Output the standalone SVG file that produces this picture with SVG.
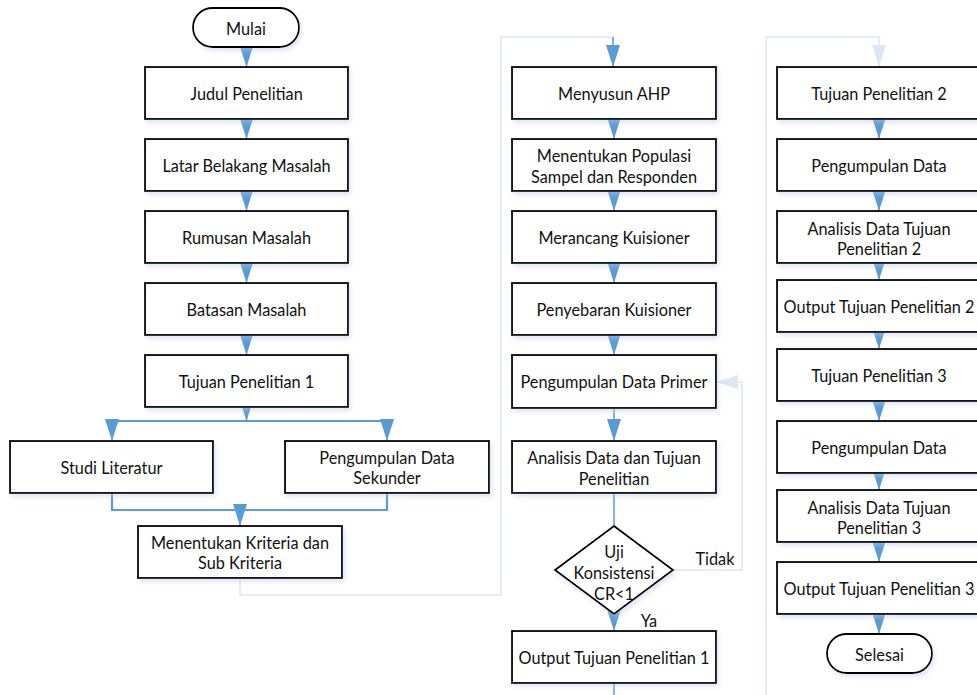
<svg xmlns="http://www.w3.org/2000/svg" width="977" height="695" viewBox="0 0 977 695">
<style>
.b{fill:#fff;stroke:#000;stroke-width:1.8;filter:url(#sh)}
.t{font-family:Lato,"Liberation Sans",sans-serif;font-size:16.3px;fill:#111;text-anchor:middle;dominant-baseline:central}
.c{fill:none;stroke:#5b9bd5;stroke-width:1.5}
.cb{fill:none;stroke:#5b9bd5;stroke-width:2.2}
.p{fill:none;stroke:#dce6f4;stroke-width:1.5}
</style>
<defs>
<filter id="sh" x="-10%" y="-10%" width="130%" height="140%"><feDropShadow dx="2" dy="3" stdDeviation="2" flood-color="#b8c8e0" flood-opacity="0.45"/></filter>
<marker id="a" viewBox="0 0 22 14" refX="22" refY="7" markerWidth="22" markerHeight="14" markerUnits="userSpaceOnUse" orient="auto"><path d="M0,0L22,7L0,14z" fill="#5b9bd5"/></marker>
<marker id="ap" viewBox="0 0 22 14" refX="22" refY="7" markerWidth="22" markerHeight="14" markerUnits="userSpaceOnUse" orient="auto"><path d="M0,0L22,7L0,14z" fill="#dce6f4"/></marker>
</defs>
<g id="connectors">
<path class="c" d="M246.5,47V67" marker-end="url(#a)"/>
<path class="c" d="M246.5,119V139" marker-end="url(#a)"/>
<path class="c" d="M246.5,191V211" marker-end="url(#a)"/>
<path class="c" d="M246.5,263V283" marker-end="url(#a)"/>
<path class="c" d="M246.5,335V355" marker-end="url(#a)"/>
<path class="c" d="M246.5,407V421" marker-end="url(#a)"/>
<path class="cb" d="M112,421H387"/>
<path class="c" d="M112,421V441" marker-end="url(#a)"/>
<path class="c" d="M387,421V441" marker-end="url(#a)"/>
<path class="cb" d="M112,493V510H387V493"/>
<path class="c" d="M240,510V526" marker-end="url(#a)"/>
<path class="p" d="M240,578V595H501V37H613V44"/>
<path class="c" d="M613,37V67" marker-end="url(#a)"/>
<path class="c" d="M614,119V139" marker-end="url(#a)"/>
<path class="c" d="M614,191V211" marker-end="url(#a)"/>
<path class="c" d="M614,263V283" marker-end="url(#a)"/>
<path class="c" d="M614,335V355" marker-end="url(#a)"/>
<path class="c" d="M614,408V441" marker-end="url(#a)"/>
<path class="c" d="M614,493V526"/>
<path class="c" d="M614,608V631" marker-end="url(#a)"/>
<path class="p" d="M673,570H742V382H716" marker-end="url(#ap)"/>
<path class="c" d="M614,683V695"/>
<path class="p" d="M766,695V37H879V67" marker-end="url(#ap)"/>
<path class="c" d="M879,119V139" marker-end="url(#a)"/>
<path class="c" d="M879,191V211" marker-end="url(#a)"/>
<path class="c" d="M879,263V280" marker-end="url(#a)"/>
<path class="c" d="M879,332V349" marker-end="url(#a)"/>
<path class="c" d="M879,401V421" marker-end="url(#a)"/>
<path class="c" d="M879,473V490" marker-end="url(#a)"/>
<path class="c" d="M879,542V562" marker-end="url(#a)"/>
<path class="c" d="M879,614V634" marker-end="url(#a)"/>
<text class="t" x="715" y="558">Tidak</text>
<text class="t" x="649" y="620">Ya</text>
</g>
<g id="mulai"><rect class="b" x="193" y="8" width="106" height="39" rx="19.5"/><text class="t" x="246" y="28">Mulai</text></g>
<g id="judul"><rect class="b" x="145" y="67" width="203" height="52"/><text class="t" x="246.5" y="93">Judul Penelitian</text></g>
<g id="latar"><rect class="b" x="145" y="139" width="203" height="52"/><text class="t" x="246.5" y="165">Latar Belakang Masalah</text></g>
<g id="rumusan"><rect class="b" x="145" y="211" width="203" height="52"/><text class="t" x="246.5" y="237">Rumusan Masalah</text></g>
<g id="batasan"><rect class="b" x="145" y="283" width="203" height="52"/><text class="t" x="246.5" y="309">Batasan Masalah</text></g>
<g id="tujuan1"><rect class="b" x="145" y="355" width="203" height="52"/><text class="t" x="246.5" y="381">Tujuan Penelitian 1</text></g>
<g id="studi"><rect class="b" x="10" y="441" width="203" height="52"/><text class="t" x="111.5" y="467">Studi Literatur</text></g>
<g id="sekunder"><rect class="b" x="285" y="441" width="204" height="52"/><text class="t" x="387" y="457">Pengumpulan Data</text><text class="t" x="387" y="477">Sekunder</text></g>
<g id="kriteria"><rect class="b" x="138" y="526" width="204" height="52"/><text class="t" x="240" y="542">Menentukan Kriteria dan</text><text class="t" x="240" y="562">Sub Kriteria</text></g>
<g id="ahp"><rect class="b" x="512" y="67" width="204" height="52"/><text class="t" x="614" y="93">Menyusun AHP</text></g>
<g id="populasi"><rect class="b" x="512" y="139" width="204" height="52"/><text class="t" x="614" y="155">Menentukan Populasi</text><text class="t" x="614" y="176">Sampel dan Responden</text></g>
<g id="merancang"><rect class="b" x="512" y="211" width="204" height="52"/><text class="t" x="614" y="237">Merancang Kuisioner</text></g>
<g id="penyebaran"><rect class="b" x="512" y="283" width="204" height="52"/><text class="t" x="614" y="309">Penyebaran Kuisioner</text></g>
<g id="primer"><rect class="b" x="512" y="355" width="204" height="53"/><text class="t" x="614" y="381">Pengumpulan Data Primer</text></g>
<g id="analisis1"><rect class="b" x="512" y="441" width="204" height="52"/><text class="t" x="614" y="457">Analisis Data dan Tujuan</text><text class="t" x="614" y="478">Penelitian</text></g>
<g id="uji"><path class="b" d="M614,526L673,570L614,614L555,570z"/><text class="t" x="614" y="551">Uji</text><text class="t" x="614" y="572">Konsistensi</text><text class="t" x="614" y="593">CR&lt;1</text></g>
<g id="output1"><rect class="b" x="512" y="631" width="204" height="52"/><text class="t" x="614" y="657">Output Tujuan Penelitian 1</text></g>
<g id="tujuan2"><rect class="b" x="777" y="67" width="204" height="52"/><text class="t" x="879" y="93">Tujuan Penelitian 2</text></g>
<g id="data2"><rect class="b" x="777" y="139" width="204" height="52"/><text class="t" x="879" y="165">Pengumpulan Data</text></g>
<g id="analisis2"><rect class="b" x="777" y="211" width="204" height="52"/><text class="t" x="879" y="228">Analisis Data Tujuan</text><text class="t" x="879" y="248">Penelitian 2</text></g>
<g id="output2"><rect class="b" x="777" y="280" width="204" height="52"/><text class="t" x="879" y="306">Output Tujuan Penelitian 2</text></g>
<g id="tujuan3"><rect class="b" x="777" y="349" width="204" height="52"/><text class="t" x="879" y="375">Tujuan Penelitian 3</text></g>
<g id="data3"><rect class="b" x="777" y="421" width="204" height="52"/><text class="t" x="879" y="447">Pengumpulan Data</text></g>
<g id="analisis3"><rect class="b" x="777" y="490" width="204" height="52"/><text class="t" x="879" y="507">Analisis Data Tujuan</text><text class="t" x="879" y="527">Penelitian 3</text></g>
<g id="output3"><rect class="b" x="777" y="562" width="204" height="52"/><text class="t" x="879" y="588">Output Tujuan Penelitian 3</text></g>
<g id="selesai"><rect class="b" x="827" y="634" width="105" height="39" rx="19.5"/><text class="t" x="879.5" y="654">Selesai</text></g>
</svg>
